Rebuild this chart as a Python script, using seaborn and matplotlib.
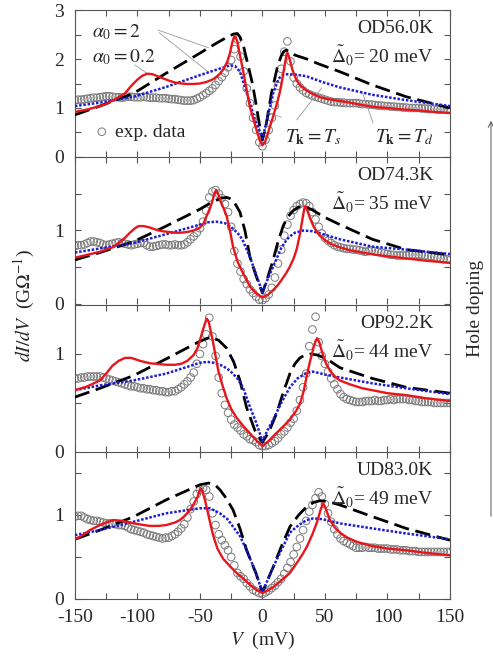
import numpy as np
import matplotlib
matplotlib.use("Agg")
import matplotlib.pyplot as plt
import seaborn as sns

sns.set_style("ticks")
plt.rcParams["font.family"] = ["Liberation Serif", "DejaVu Serif"]
plt.rcParams["mathtext.fontset"] = "stix"
plt.rcParams["axes.unicode_minus"] = False

# bias sweep of the measured spectra (2.5 mV step)
V_EXP = np.arange(-150, 150.01, 2.5)

exp1 = [1.16, 1.17, 1.17, 1.18, 1.19, 1.20, 1.21, 1.21, 1.22, 1.23,
        1.24, 1.24, 1.23, 1.22, 1.22, 1.21, 1.22, 1.23, 1.23, 1.22,
        1.22, 1.22, 1.23, 1.22, 1.21, 1.21, 1.21, 1.20, 1.20, 1.20,
        1.19, 1.18, 1.18, 1.17, 1.16, 1.15, 1.15, 1.15, 1.16, 1.19,
        1.22, 1.26, 1.30, 1.35, 1.40, 1.47, 1.55, 1.63, 1.72, 1.83,
        1.98, 2.20, 2.40, 2.05, 1.75, 1.40, 1.10, 0.80, 0.55, 0.30,
        0.22, 0.35, 0.55, 0.80, 1.05, 1.45, 1.80, 2.15, 2.36, 1.95,
        1.62, 1.50, 1.42, 1.36, 1.31, 1.28, 1.25, 1.23, 1.21, 1.19,
        1.17, 1.15, 1.13, 1.12, 1.12, 1.11, 1.11, 1.10, 1.10, 1.10,
        1.10, 1.09, 1.08, 1.08, 1.07, 1.07, 1.06, 1.05, 1.05, 1.04,
        1.04, 1.03, 1.03, 1.02, 1.02, 1.01, 1.01, 1.00, 1.00, 1.00,
        1.00, 0.99, 0.99, 0.98, 0.98, 0.98, 0.97, 0.97, 0.97, 0.96,
        0.96]
exp2 = [0.79, 0.80, 0.80, 0.81, 0.83, 0.85, 0.85, 0.84, 0.83, 0.81,
        0.80, 0.81, 0.82, 0.83, 0.84, 0.83, 0.82, 0.81, 0.80, 0.81,
        0.82, 0.83, 0.83, 0.80, 0.78, 0.78, 0.79, 0.80, 0.81, 0.81,
        0.80, 0.80, 0.81, 0.80, 0.80, 0.81, 0.84, 0.88, 0.92, 0.97,
        1.03, 1.12, 1.27, 1.45, 1.53, 1.55, 1.50, 1.44, 1.36, 1.25,
        1.05, 0.72, 0.55, 0.44, 0.34, 0.27, 0.20, 0.15, 0.10, 0.06,
        0.05, 0.08, 0.13, 0.22, 0.36, 0.55, 0.74, 0.93, 1.08, 1.20,
        1.28, 1.33, 1.36, 1.38, 1.37, 1.33, 1.25, 1.15, 1.05, 0.96,
        0.90, 0.86, 0.83, 0.80, 0.78, 0.77, 0.76, 0.75, 0.75, 0.74,
        0.74, 0.73, 0.72, 0.71, 0.72, 0.73, 0.72, 0.71, 0.70, 0.69,
        0.68, 0.67, 0.67, 0.66, 0.66, 0.66, 0.66, 0.67, 0.67, 0.67,
        0.67, 0.67, 0.66, 0.65, 0.65, 0.64, 0.63, 0.62, 0.61, 0.61,
        0.60]
exp3 = [0.75, 0.75, 0.76, 0.76, 0.77, 0.77, 0.77, 0.77, 0.77, 0.76,
        0.75, 0.74, 0.73, 0.72, 0.71, 0.70, 0.69, 0.68, 0.67, 0.67,
        0.66, 0.65, 0.65, 0.64, 0.64, 0.63, 0.63, 0.62, 0.62, 0.61,
        0.61, 0.62, 0.62, 0.64, 0.66, 0.69, 0.72, 0.76, 0.81, 0.90,
        1.00, 1.10, 1.20, 1.37, 1.18, 0.98, 0.76, 0.60, 0.48, 0.40,
        0.33, 0.28, 0.25, 0.22, 0.18, 0.16, 0.13, 0.12, 0.10, 0.07,
        0.06, 0.06, 0.07, 0.09, 0.11, 0.14, 0.18, 0.21, 0.25, 0.30,
        0.34, 0.42, 0.53, 0.66, 0.80, 1.08, 1.25, 1.38, 1.12, 0.98,
        0.90, 0.82, 0.75, 0.69, 0.64, 0.59, 0.56, 0.54, 0.53, 0.52,
        0.51, 0.51, 0.51, 0.52, 0.52, 0.52, 0.53, 0.52, 0.52, 0.53,
        0.53, 0.54, 0.53, 0.54, 0.54, 0.54, 0.54, 0.53, 0.53, 0.52,
        0.52, 0.51, 0.51, 0.51, 0.51, 0.50, 0.50, 0.50, 0.50, 0.50,
        0.50]
exp4 = [0.98, 0.99, 0.99, 0.97, 0.95, 0.94, 0.93, 0.93, 0.92, 0.91,
        0.90, 0.90, 0.90, 0.89, 0.88, 0.88, 0.87, 0.85, 0.83, 0.82,
        0.81, 0.80, 0.79, 0.77, 0.76, 0.75, 0.74, 0.73, 0.72, 0.73,
        0.73, 0.75, 0.77, 0.80, 0.84, 0.89, 0.97, 1.07, 1.16, 1.25,
        1.30, 1.32, 1.30, 1.22, 1.02, 0.88, 0.77, 0.70, 0.64, 0.58,
        0.50, 0.40, 0.31, 0.27, 0.24, 0.19, 0.15, 0.11, 0.09, 0.07,
        0.06, 0.08, 0.10, 0.13, 0.16, 0.20, 0.24, 0.30, 0.37, 0.44,
        0.53, 0.62, 0.72, 0.82, 0.93, 1.04, 1.12, 1.20, 1.27, 1.22,
        1.13, 1.02, 0.92, 0.83, 0.77, 0.72, 0.69, 0.67, 0.65, 0.63,
        0.61, 0.61, 0.61, 0.62, 0.61, 0.61, 0.61, 0.60, 0.60, 0.60,
        0.60, 0.59, 0.59, 0.59, 0.58, 0.58, 0.58, 0.57, 0.57, 0.57,
        0.56, 0.56, 0.56, 0.56, 0.56, 0.56, 0.56, 0.56, 0.56, 0.56,
        0.56]

# model curves: alpha0 = 0.2 (red), alpha0 = 2 with T_k = T_d (black dashed), T_k = T_s (blue dotted)
red1_v = [-150, -140, -130, -125, -120, -115, -110, -105, -100, -96, -92, -88, -85, -80, -75, -70, -65, -60, -55, -50,
          -45, -40, -37, -34, -31, -28, -26, -24, -22.5, -21.5, -20, -18, -15.6, -13, -10, -7, -4.7, -2, 0, 2, 4, 6, 8,
          10, 12, 14, 16, 18, 19.6, 20.5, 22, 24, 26, 28, 30, 35, 40, 46, 53, 60, 70, 80, 90, 100, 112, 125, 137, 150]
red1 = [0.92, 0.97, 1.04, 1.08, 1.15, 1.22, 1.30, 1.45, 1.58, 1.66, 1.70, 1.69, 1.66, 1.61, 1.56, 1.52, 1.50, 1.49, 1.49, 1.50,
        1.53, 1.58, 1.63, 1.70, 1.80, 1.95, 2.12, 2.35, 2.46, 2.45, 2.35, 2.08, 1.78, 1.42, 1.02, 0.75, 0.55, 0.33, 0.24, 0.30, 0.45, 0.62, 0.78,
        0.95, 1.13, 1.33, 1.60, 1.91, 2.12, 2.10, 1.98, 1.78, 1.64, 1.54, 1.47, 1.36, 1.29, 1.22, 1.18, 1.15, 1.11, 1.06, 1.02, 1.00, 0.97, 0.95, 0.92, 0.90]
black1_v = [-150, -130, -103, -77, -50, -37, -28, -23, -20, -18, -15, -12.5, -8, -4.7, -2, 0, 2.7, 7.3, 12, 15, 17, 19,
            22, 26, 35.5, 45, 62, 88, 115, 150]
black1 = [0.86, 1.04, 1.30, 1.71, 2.12, 2.32, 2.45, 2.51, 2.52, 2.45, 2.25, 1.98, 1.50, 1.02, 0.60, 0.35, 0.62, 1.31, 1.84, 2.06,
          2.15, 2.18, 2.15, 2.08, 2.00, 1.90, 1.74, 1.47, 1.23, 1.00]
blue1_v = [-150, -130, -103, -77, -50, -37, -26, -22, -18, -14, -10, -6, 0, 3.7, 8.7, 13, 16, 20, 27, 35, 48, 62, 88, 115, 150]
blue1 = [1.04, 1.11, 1.23, 1.43, 1.67, 1.78, 1.87, 1.86, 1.74, 1.43, 1.10, 0.76, 0.38, 0.76, 1.31, 1.60, 1.67, 1.69, 1.68,
         1.65, 1.53, 1.42, 1.27, 1.16, 1.04]

red2_v = [-150, -140, -130, -120, -115, -110, -106, -102, -99, -95, -90, -85, -80, -75, -70, -65, -60, -55, -50, -47,
          -44.6, -42, -40, -38.5, -37, -35.5, -33.5, -31, -28.7, -26, -23.5, -20, -15.6, -12.5, -10, -7, -4, 0, 4, 8.6,
          12, 15, 19, 22, 25, 27.5, 30, 32, 33.5, 34.5, 36, 38, 40.8, 44, 48, 51.5, 56, 62, 70, 80, 90, 100, 115, 130, 150]
red2 = [0.63, 0.67, 0.71, 0.77, 0.83, 0.90, 0.97, 1.03, 1.06, 1.06, 1.04, 1.01, 0.99, 0.98, 0.97, 0.97, 0.98, 1.00, 1.04, 1.10,
        1.20, 1.30, 1.40, 1.50, 1.55, 1.50, 1.40, 1.30, 1.20, 1.00, 0.78, 0.58, 0.42, 0.32, 0.24, 0.18, 0.13, 0.09, 0.12, 0.19,
        0.25, 0.32, 0.42, 0.51, 0.62, 0.75, 0.95, 1.15, 1.30, 1.33, 1.27, 1.17, 1.06, 0.97, 0.90, 0.85, 0.81, 0.77, 0.73, 0.70,
        0.67, 0.65, 0.62, 0.59, 0.56]
black2_v = [-150, -130, -103, -77, -50, -40, -33, -28.7, -25, -22, -18, -14, -10, -5, 0, 4, 8.6, 12.5, 16.6, 20, 24.6, 29,
            32.6, 36, 40, 48.5, 62, 88, 115, 150]
black2 = [0.60, 0.70, 0.85, 1.06, 1.29, 1.39, 1.44, 1.45, 1.43, 1.37, 1.25, 1.00, 0.64, 0.38, 0.15, 0.35, 0.60, 0.85, 1.06, 1.18,
          1.27, 1.32, 1.33, 1.31, 1.28, 1.19, 1.08, 0.88, 0.74, 0.67]
blue2_v = [-150, -103, -77, -50, -45, -37, -30, -26, -22, -18, -15.6, -10, -5, 0, 4, 8.6, 15, 19.6, 22, 26, 32.6, 40, 48.5,
           62, 88, 115, 150]
blue2 = [0.70, 0.83, 0.95, 1.08, 1.11, 1.12, 1.10, 1.06, 1.00, 0.93, 0.86, 0.64, 0.40, 0.16, 0.33, 0.51, 0.76, 0.88, 0.92,
         0.97, 1.00, 0.99, 0.95, 0.88, 0.78, 0.74, 0.68]

red3_v = [-150, -140, -130, -125, -120, -115, -110, -105, -98, -90, -85, -77, -70, -65, -60, -55, -52, -50, -47.5, -46,
          -44.5, -43, -41.5, -39.5, -37.5, -35.3, -32, -28.7, -25, -20.7, -15, -10, -5, 0, 4, 8.6, 15, 22, 27, 30, 33,
          35.5, 38, 40.8, 42.5, 43.8, 45.5, 47, 48.5, 51, 54, 58, 62, 70, 80, 88, 100, 115, 130, 150]
red3 = [0.63, 0.67, 0.73, 0.80, 0.88, 0.93, 0.96, 0.96, 0.93, 0.905, 0.90, 0.89, 0.89, 0.90, 0.93, 0.99, 1.06, 1.14, 1.25, 1.31,
        1.36, 1.33, 1.24, 1.12, 0.98, 0.83, 0.68, 0.55, 0.44, 0.35, 0.26, 0.19, 0.12, 0.06, 0.10, 0.16, 0.24, 0.33, 0.42, 0.49,
        0.62, 0.78, 0.92, 1.06, 1.13, 1.16, 1.12, 1.05, 0.99, 0.90, 0.83, 0.77, 0.73, 0.69, 0.65, 0.63, 0.60, 0.58, 0.55, 0.52]
black3_v = [-150, -130, -103, -77, -50, -42, -35, -28.7, -23, -18, -12.6, -10, -6, 0, 5, 11.5, 17, 22, 26, 30, 34, 38, 44,
            51.5, 62, 88, 115, 150]
black3 = [0.56, 0.65, 0.78, 0.95, 1.13, 1.17, 1.14, 1.06, 0.92, 0.73, 0.45, 0.36, 0.22, 0.10, 0.20, 0.40, 0.62, 0.80, 0.90,
          0.96, 0.99, 1.00, 0.99, 0.95, 0.86, 0.75, 0.66, 0.60]
blue3_v = [-150, -130, -103, -77, -50, -44, -39, -32, -26, -20, -15.6, -10, -5, 0, 4, 8.6, 15, 22, 28, 35.5, 40, 43.8, 50,
           62, 88, 115, 150]
blue3 = [0.63, 0.68, 0.73, 0.80, 0.91, 0.92, 0.91, 0.88, 0.83, 0.75, 0.66, 0.46, 0.30, 0.11, 0.22, 0.33, 0.50, 0.66, 0.75,
         0.81, 0.82, 0.81, 0.79, 0.76, 0.70, 0.65, 0.59]

red4_v = [-150, -145, -138, -130, -125, -119, -112, -103, -95, -90, -83, -77, -70, -66, -62, -58, -55, -52, -50.5, -49.5,
          -48, -46, -44, -42, -39.5, -36, -31.5, -26, -20.7, -15, -10, -5, 0, 4, 8.6, 15, 22, 28, 32, 35.5, 40, 43.8,
          46.5, 48.5, 50, 52, 54, 58, 62, 68, 75.6, 88, 100, 115, 130, 150]
red4 = [0.71, 0.75, 0.82, 0.88, 0.91, 0.94, 0.93, 0.90, 0.88, 0.87, 0.87, 0.88, 0.91, 0.94, 0.99, 1.06, 1.13, 1.21, 1.28, 1.32,
        1.28, 1.18, 1.05, 0.92, 0.76, 0.60, 0.48, 0.39, 0.31, 0.24, 0.17, 0.11, 0.07, 0.10, 0.14, 0.22, 0.31, 0.44, 0.53, 0.62,
        0.77, 0.92, 1.06, 1.14, 1.10, 1.02, 0.94, 0.85, 0.79, 0.73, 0.68, 0.63, 0.60, 0.58, 0.55, 0.52]
black4_v = [-150, -130, -103, -77, -50, -43, -38, -34, -29, -23.5, -18, -12.6, -5, 0, 4, 8.6, 15, 22, 29, 35.5, 41, 46, 52,
            62, 88, 115, 150]
black4 = [0.71, 0.82, 0.98, 1.18, 1.36, 1.38, 1.36, 1.30, 1.20, 1.06, 0.84, 0.58, 0.30, 0.08, 0.22, 0.38, 0.62, 0.86, 1.00,
          1.10, 1.15, 1.17, 1.16, 1.12, 0.98, 0.84, 0.70]
blue4_v = [-150, -130, -103, -77, -50, -42, -34, -28, -23.5, -18, -12.6, -5, 0, 4, 8.6, 15, 22, 29, 35.5, 40.8, 48, 62, 88,
           115, 150]
blue4 = [0.76, 0.82, 0.92, 1.02, 1.08, 1.08, 1.02, 0.95, 0.86, 0.75, 0.58, 0.30, 0.08, 0.22, 0.38, 0.58, 0.79, 0.88, 0.94,
         0.96, 0.95, 0.90, 0.84, 0.78, 0.71]

samples = ["OD56.0K", "OD74.3K", "OP92.2K", "UD83.0K"]
gaps = [20, 35, 44, 49]
ytops = [3, 2, 1.5, 1.75]

panels = [
    (exp1, (red1_v, red1), (black1_v, black1), (blue1_v, blue1)),
    (exp2, (red2_v, red2), (black2_v, black2), (blue2_v, blue2)),
    (exp3, (red3_v, red3), (black3_v, black3), (blue3_v, blue3)),
    (exp4, (red4_v, red4), (black4_v, black4), (blue4_v, blue4)),
]

RED = "#e8161c"
BLUE = "#1c1cd8"
GREY = "#7a7a7a"
FRAME = "#555555"
THIN = "#9a9a9a"

fig = plt.figure(figsize=(4.93, 6.58), dpi=100)
left, width, height = 0.152, 0.7606, 0.2234
bottoms = [0.7614, 0.538, 0.3131, 0.0897]

axes = []
for i, (exp, red, black, blue) in enumerate(panels):
    ax = fig.add_axes([left, bottoms[i], width, height])
    axes.append(ax)
    sns.scatterplot(x=V_EXP, y=exp, ax=ax, marker="o", s=30, facecolor="none",
                    edgecolor=GREY, linewidth=0.7, zorder=1, legend=False)
    sns.lineplot(x=black[0], y=black[1], ax=ax, color="black", lw=2.0,
                 linestyle=(0, (5.5, 2.4)), sort=False, estimator=None, zorder=3)
    sns.lineplot(x=blue[0], y=blue[1], ax=ax, color=BLUE, lw=1.8,
                 linestyle=(0, (1, 0.7)), sort=False, estimator=None, zorder=4)
    sns.lineplot(x=red[0], y=red[1], ax=ax, color=RED, lw=1.7,
                 sort=False, estimator=None, zorder=5)

    top = ytops[i]
    ax.set_xlim(-150, 150)
    ax.set_ylim(0, top)
    yt = np.arange(0, top + 0.001, 0.5)
    ax.set_yticks(yt)
    ax.set_yticklabels([str(int(t)) if (t == int(t) and (t < top or i == 0)) else "" for t in yt])
    xt = np.arange(-150, 151, 25)
    ax.set_xticks(xt)
    if i == 3:
        ax.set_xticklabels([str(t) if t % 50 == 0 else "" for t in xt])
    else:
        ax.set_xticklabels([])
    ax.tick_params(direction="in", top=True, right=True, length=4, width=0.8,
                   color=FRAME, labelsize=14)
    ax.tick_params(axis="y", pad=8)
    ax.tick_params(axis="x", pad=7)
    for sp in ax.spines.values():
        sp.set_visible(True)
        sp.set_color(FRAME)
        sp.set_linewidth(0.8)
    if i < 3:
        # the panel below draws the shared border
        ax.spines["bottom"].set_visible(False)
    ax.set_xlabel("")
    ax.set_ylabel("")

    ax.text(0.955, 0.875, samples[i], transform=ax.transAxes, ha="right", va="center", fontsize=14)
    ax.text(0.955, 0.69, r"$\tilde{\Delta}_0$" + f"= {gaps[i]} meV", transform=ax.transAxes,
            ha="right", va="center", fontsize=14)

# annotations of the top panel
ax = axes[0]
ax.text(0.045, 0.85, r"$\alpha_0 = 2$", transform=ax.transAxes, ha="left", va="center", fontsize=14)
ax.text(0.045, 0.68, r"$\alpha_0 = 0.2$", transform=ax.transAxes, ha="left", va="center", fontsize=14)
arw = dict(arrowstyle="-", color=THIN, lw=0.6, shrinkA=0, shrinkB=0)
ax.annotate("", xy=(-43, np.interp(-43, black1_v, black1)), xytext=(0.221, 0.864),
            textcoords="axes fraction", arrowprops=arw)
ax.annotate("", xy=(-43, np.interp(-43, blue1_v, blue1)), xytext=(0.225, 0.845),
            textcoords="axes fraction", arrowprops=arw)
ax.annotate("", xy=(-92, np.interp(-92, red1_v, red1)), xytext=(0.16, 0.626),
            textcoords="axes fraction", arrowprops=arw)

ax.text(0.635, 0.136, r"$T_{\mathbf{k}} = T_s$", transform=ax.transAxes, ha="center", va="center", fontsize=14)
ax.text(0.877, 0.136, r"$T_{\mathbf{k}} = T_d$", transform=ax.transAxes, ha="center", va="center", fontsize=14)
ax.annotate("", xy=(5, np.interp(5, blue1_v, blue1)), xytext=(0.551, 0.27),
            textcoords="axes fraction", arrowprops=arw)
ax.annotate("", xy=(47.5, np.interp(47.5, red1_v, red1) + 0.2), xytext=(0.591, 0.252),
            textcoords="axes fraction", arrowprops=arw)
ax.annotate("", xy=(80, np.interp(80, blue1_v, blue1)), xytext=(0.795, 0.231),
            textcoords="axes fraction", arrowprops=arw)

h = ax.scatter([], [], marker="o", s=30, facecolor="none", edgecolor=GREY, linewidth=0.7)
ax.legend(handles=[h], labels=["exp. data"], loc="center left", bbox_to_anchor=(0.025, 0.17),
          frameon=False, handletextpad=0.2, handlelength=1.0, fontsize=14, borderaxespad=0)

# axis titles
fig.text(0.05, 1 - 305 / 658, r"$dI/dV$  (G$\Omega^{-1}$)", rotation=90, ha="center", va="center", fontsize=14)
fig.text(left + width / 2, 1 - 640 / 658, r"$V$  (mV)", ha="center", va="center", fontsize=14)

# hole doping arrow on the right
fig.text(475 / 493, 1 - 308 / 658, "Hole doping", rotation=90, ha="center", va="center", fontsize=14)
fig.patches.append(matplotlib.patches.FancyArrowPatch(
    (491 / 493, 1 - 519 / 658), (491 / 493, 1 - 118 / 658), transform=fig.transFigure,
    arrowstyle="->,head_length=4,head_width=2", color="#555555", lw=0.7))

fig.savefig("out.png", dpi=100)
